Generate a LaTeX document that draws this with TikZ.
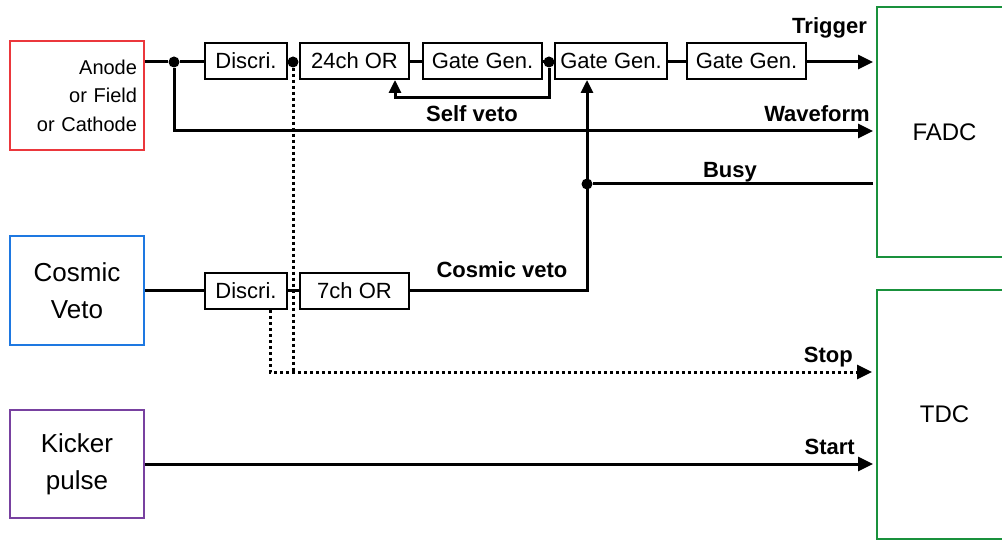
\documentclass[tikz,border=0pt]{standalone}
\usepackage{fontspec}
\setmainfont{Liberation Sans}
\usetikzlibrary{arrows.meta}
\definecolor{cred}{RGB}{235,55,60}
\definecolor{cblue}{RGB}{30,120,225}
\definecolor{cpurple}{RGB}{120,65,160}
\definecolor{cgreen}{RGB}{25,145,60}
\begin{document}
\begin{tikzpicture}[x=1pt,y=-1pt,
  sig/.style={line width=3pt},
  dots/.style={line width=3pt,dash pattern=on 3pt off 3pt},
  arr/.style={-{Triangle[length=15pt,width=14pt]}},
  uparr/.style={-{Triangle[length=13pt,width=12pt]}},
  blk/.style={draw,line width=2pt,minimum height=36pt,inner sep=0pt,font=\fontsize{22}{26}\selectfont},
  src/.style={draw,line width=2pt,minimum width=134pt,inner sep=0pt,align=center,font=\fontsize{26}{37}\selectfont},
  dev/.style={draw=cgreen,line width=2pt,minimum width=135pt,inner sep=0pt,font=\fontsize{24}{28}\selectfont},
  lab/.style={font=\bfseries\fontsize{22}{26}\selectfont,inner sep=0pt},
  jdot/.style={circle,fill,inner sep=0pt,minimum size=11pt}]
\useasboundingbox (0,0) rectangle (1002,540);
% sources
\node[src,draw=cred,minimum height=109pt,text width=120pt,align=right,inner xsep=7pt,font=\fontsize{20}{28.5}\selectfont] (anode) at (77,95.5) {Anode\\or Field\\or Cathode};
\node[src,draw=cblue,minimum height=109pt] (cosmic) at (77,290.5) {Cosmic\\Veto};
\node[src,draw=cpurple,minimum height=108pt] (kicker) at (77,464) {Kicker\\pulse};
% devices
\node[dev,minimum height=250pt] (fadc) at (944.5,132) {FADC};
\node[dev,minimum height=249pt] (tdc) at (944.5,414.5) {TDC};
% blocks
\node[blk,minimum width=82pt] (d1) at (246,61) {Discri.};
\node[blk,minimum width=109pt] (or24) at (354.5,61) {24ch OR};
\node[blk,minimum width=119pt] (g1) at (482.5,61) {Gate Gen.};
\node[blk,minimum width=112pt] (g2) at (611,61) {Gate Gen.};
\node[blk,minimum width=119pt] (g3) at (746.5,61) {Gate Gen.};
\node[blk,minimum width=82pt] (d2) at (246,291) {Discri.};
\node[blk,minimum width=109pt] (or7) at (354.5,291) {7ch OR};
% junctions
\node[jdot] (j1) at (174,62) {};
\node[jdot] (j2) at (293,62) {};
\node[jdot] (j3) at (549,62) {};
\node[jdot] (j4) at (587,184) {};
\coordinate (trigend) at (873,62);
\coordinate (wfend) at (873,131);
\coordinate (busyend) at (873,184);
\coordinate (cv) at (587,291);
\coordinate (sv) at (395,98);
\coordinate (stopcorner) at (270,372);
\coordinate (stopend) at (872,372);
\coordinate (startend) at (873,464);
% connectors
\draw[sig] (anode.east |- j1) -- (j1) -- (d1.west |- j1);
\draw[sig] (d1.east |- j2) -- (j2) -- (or24.west |- j2);
\draw[sig] (or24.east |- j2) -- (g1.west |- j2);
\draw[sig] (g1.east |- j3) -- (j3) -- (g2.west |- j3);
\draw[sig] (g2.east |- j3) -- (g3.west |- j3);
\draw[sig,arr] (g3.east |- trigend) -- (trigend);
\draw[sig,arr] (j1) |- (wfend);
\draw[sig,uparr] (j3) |- (sv) -- (sv |- or24.south);
\draw[sig] (busyend) -- (j4);
\draw[sig] (cosmic.east |- d2) -- (d2.west);
\draw[sig] (d2.east) -- (or7.west);
\draw[sig,uparr] (or7.east) -- (cv) -- (cv |- g2.south);
\draw[sig,arr] (kicker.east |- startend) -- (startend);
\draw[dots] (j2) -- (j2 |- stopcorner);
\draw[dots,arr] (stopcorner |- d2.south) |- (stopend);
% labels
\node[lab,anchor=base east] (ltrig) at (867,34) {Trigger};
\node[lab,anchor=base east] (lwf) at (870,122) {Waveform};
\node[lab,anchor=base] (lsv) at (472,122) {Self veto};
\node[lab,anchor=base] (lbusy) at (730,178) {Busy};
\node[lab,anchor=base] (lcv) at (502,278) {Cosmic veto};
\node[lab,anchor=base east] (lstop) at (853,362) {Stop};
\node[lab,anchor=base east] (lstart) at (855,454) {Start};
\end{tikzpicture}
\end{document}
